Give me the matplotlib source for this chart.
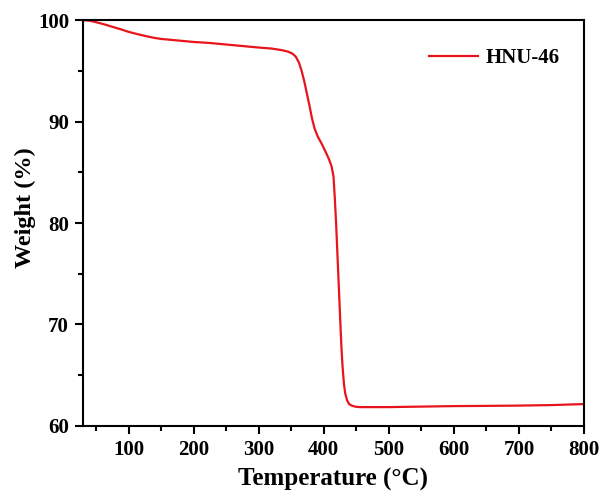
import matplotlib
matplotlib.use("Agg")
import matplotlib.pyplot as plt
from matplotlib.ticker import MultipleLocator

temperature = [30, 40, 50, 62, 75, 88, 100, 112, 125, 140, 150, 175, 200, 225, 250, 275, 300,
               320, 335, 345, 352, 357, 362, 366, 370, 374, 378, 382, 386, 391, 397, 403,
               408, 412, 415, 417, 419, 421, 423, 425, 427, 429, 431, 433, 436, 439, 443,
               448, 455, 465, 500, 550, 600, 650, 700, 750, 800]
weight = [100.0, 99.95, 99.8, 99.6, 99.35, 99.1, 98.85, 98.65, 98.45, 98.25, 98.15, 98.0, 97.85,
          97.75, 97.6, 97.45, 97.3, 97.2, 97.05, 96.9, 96.7, 96.4, 95.8, 95.0, 94.0, 92.8,
          91.6, 90.3, 89.3, 88.5, 87.8, 87.0, 86.3, 85.6, 84.6, 82.5, 80.0, 77.0, 74.0,
          71.0, 68.0, 65.8, 64.2, 63.2, 62.5, 62.15, 62.0, 61.9, 61.85, 61.85, 61.85, 61.9,
          61.95, 61.97, 62.0, 62.05, 62.15]
series_label = "HNU-46"

plt.rcParams['font.family'] = ['Liberation Serif', 'DejaVu Serif']
plt.rcParams['font.weight'] = 'bold'

fig = plt.figure(figsize=(6.08, 5.04), dpi=100)
ax = fig.add_axes([0.1365, 0.155, 0.824, 0.805])
ax.plot(temperature, weight, color='#e8141c', lw=1.6, label=series_label)

ax.set_xlim(30, 800)
ax.set_ylim(60, 100)
ax.xaxis.set_major_locator(MultipleLocator(100))
ax.xaxis.set_minor_locator(MultipleLocator(50))
ax.yaxis.set_major_locator(MultipleLocator(10))
ax.yaxis.set_minor_locator(MultipleLocator(5))
ax.tick_params(which='major', direction='out', length=6, width=1.5, labelsize=15, pad=4)
ax.tick_params(which='minor', direction='out', length=3.5, width=1.5)
for s in ax.spines.values():
    s.set_linewidth(1.5)
for lab in ax.get_xticklabels() + ax.get_yticklabels():
    lab.set_fontweight('bold')

ax.set_xlabel('Temperature (\u00b0C)', fontsize=18, fontweight='bold', labelpad=6)
ax.set_ylabel('Weight (%)', fontsize=17.5, fontweight='bold')
ax.yaxis.set_label_coords(-0.094, 0.537)

leg = ax.legend(loc='upper right', frameon=False, fontsize=15, handlelength=2.35,
                handletextpad=0.35, bbox_to_anchor=(0.989, 0.978))
for t in leg.get_texts():
    t.set_fontweight('bold')

fig.savefig('out.png', dpi=100)
